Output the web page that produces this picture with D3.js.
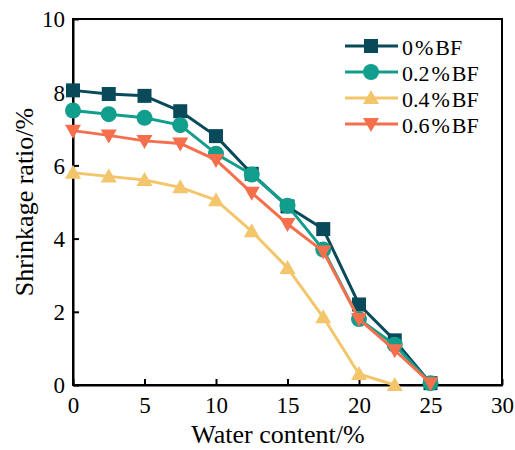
<!DOCTYPE html>
<html>
<head>
<meta charset="utf-8">
<script src="https://cdn.jsdelivr.net/npm/d3@7"></script>
</head>
<body style="margin:0">
<script>
const waterContent = [0, 2.5, 5, 7.5, 10, 12.5, 15, 17.5, 20, 22.5, 25];
const bf0 = [8.05, 7.95, 7.9, 7.48, 6.8, 5.77, 4.88, 4.26, 2.2, 1.22, 0.05];
const bf02 = [7.5, 7.4, 7.3, 7.1, 6.32, 5.75, 4.9, 3.7, 1.8, 1.1, 0.05];
const bf04 = [5.8, 5.7, 5.6, 5.4, 5.05, 4.2, 3.2, 1.85, 0.3, 0.0];
const bf06 = [6.95, 6.82, 6.67, 6.6, 6.15, 5.25, 4.4, 3.65, 1.8, 0.95, 0.05];
const seriesNames = [["0", "BF"], ["0.2", "BF"], ["0.4", "BF"], ["0.6", "BF"]];
const colors = ["#08495a", "#129e8c", "#f3c66b", "#f56f4d"];
const markers = ["square", "circle", "triangle", "triangleDown"];
const xTicks = [0, 5, 10, 15, 20, 25, 30];
const yTicks = [0, 2, 4, 6, 8, 10];

const width = 515, height = 450;
const margin = {left: 73, right: 13, top: 19, bottom: 65};
const serif = "Liberation Serif";

const svg = d3.select("body").append("svg")
    .attr("width", width)
    .attr("height", height);

const x = d3.scaleLinear().domain([0, 30]).range([margin.left, width - margin.right]);
const y = d3.scaleLinear().domain([0, 10]).range([height - margin.bottom, margin.top]);

// frame
svg.append("rect")
    .attr("x", x(0)).attr("y", y(10))
    .attr("width", x(30) - x(0)).attr("height", y(0) - y(10))
    .attr("fill", "none").attr("stroke", "#000").attr("stroke-width", 2);

// axes with inward ticks
const xAxis = svg.append("g")
    .attr("transform", `translate(0,${y(0)})`)
    .call(d3.axisBottom(x).tickValues(xTicks).tickSizeInner(-6).tickSizeOuter(0));
const yAxis = svg.append("g")
    .attr("transform", `translate(${x(0)},0)`)
    .call(d3.axisLeft(y).tickValues(yTicks).tickSizeInner(-6).tickSizeOuter(0));
[xAxis, yAxis].forEach(a => {
    a.attr("font-family", serif).attr("font-size", 23);
    a.select(".domain").attr("stroke-width", 2);
    a.selectAll(".tick line").attr("stroke-width", 2);
    a.selectAll(".tick text").attr("fill", "#000")
        .attr("font-family", serif).attr("font-size", 23);
});
xAxis.selectAll(".tick text").attr("y", 28).attr("dy", null);
yAxis.selectAll(".tick text").attr("x", -8).attr("dy", "0.34em");

svg.append("text")
    .attr("x", 278).attr("y", 443)
    .attr("text-anchor", "middle")
    .attr("font-family", serif).attr("font-size", 26)
    .text("Water content/%");
svg.append("text")
    .attr("transform", `translate(33,${(y(0) + y(10)) / 2}) rotate(-90)`)
    .attr("text-anchor", "middle")
    .attr("font-family", serif).attr("font-size", 26)
    .text("Shrinkage ratio/%");

function drawMarker(g, type, cx, cy, color) {
    if (type === "square") {
        g.append("rect").attr("x", cx - 7).attr("y", cy - 7).attr("width", 14).attr("height", 14).attr("fill", color);
    } else if (type === "circle") {
        g.append("circle").attr("cx", cx).attr("cy", cy).attr("r", 8).attr("fill", color);
    } else if (type === "triangle") {
        g.append("path").attr("d", `M${cx},${cy - 8}L${cx + 8},${cy + 6}L${cx - 8},${cy + 6}Z`).attr("fill", color);
    } else {
        g.append("path").attr("d", `M${cx},${cy + 8}L${cx + 8},${cy - 6}L${cx - 8},${cy - 6}Z`).attr("fill", color);
    }
}

const allSeries = [bf0, bf02, bf04, bf06];
const line = d3.line().x(d => x(d[0])).y(d => y(d[1]));

allSeries.forEach((vals, i) => {
    const pts = vals.map((v, j) => [waterContent[j], v]);
    const g = svg.append("g");
    g.append("path").datum(pts)
        .attr("d", line).attr("fill", "none")
        .attr("stroke", colors[i]).attr("stroke-width", 3)
        .attr("stroke-linejoin", "round");
    pts.forEach(p => drawMarker(g, markers[i], x(p[0]), y(p[1]), colors[i]));
});

// legend
const legend = svg.append("g");
seriesNames.forEach((name, i) => {
    const ly = 46 + i * 26;
    legend.append("line").attr("x1", 345).attr("x2", 398).attr("y1", ly).attr("y2", ly)
        .attr("stroke", colors[i]).attr("stroke-width", 3);
    drawMarker(legend, markers[i], 371, ly, colors[i]);
    const t = legend.append("text").attr("x", 402).attr("y", ly + 9)
        .attr("font-family", serif).attr("font-size", 22);
    t.append("tspan").text(name[0]);
    t.append("tspan").attr("dx", 2).text("%");
    t.append("tspan").attr("dx", 2).text(name[1]);
});
</script>
</body>
</html>
